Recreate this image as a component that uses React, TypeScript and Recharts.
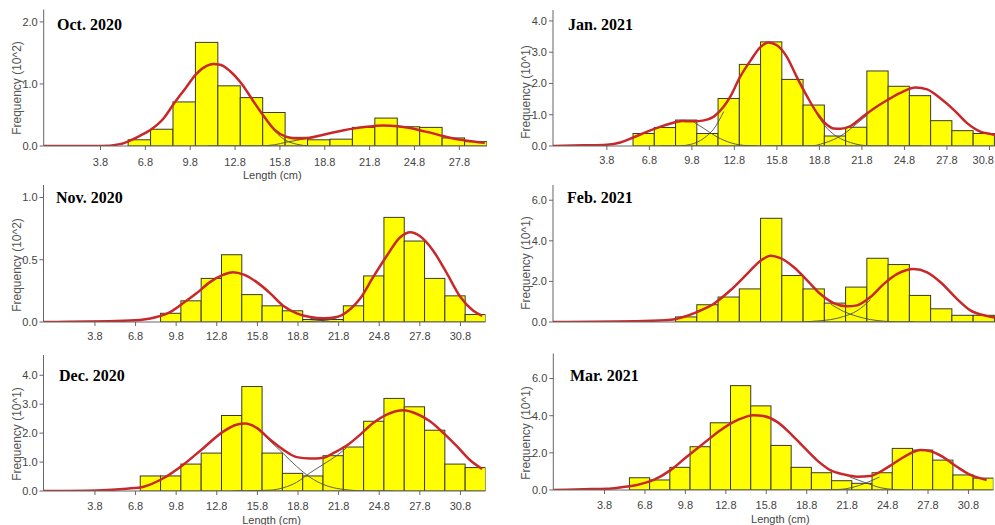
import React from 'react'
import { ComposedChart, Bar, Line, XAxis, YAxis } from 'recharts'

type Pt = [number, number]

// length classes (cm): bin midpoints, class width and axis ticks
const binCenters = [1.9, 3.4, 4.9, 6.4, 7.9, 9.4, 10.9, 12.4, 13.9, 15.4, 16.9, 18.4, 19.9, 21.4, 22.9, 24.4, 25.9, 27.4, 28.9, 30.4, 31.9]
const binWidth = 1.5
const lengthTicks = [3.8, 6.8, 9.8, 12.8, 15.8, 18.8, 21.8, 24.8, 27.8, 30.8]

// Oct. 2020  (x 10^2)
const octFreq = [null, null, null, 0.1, 0.27, 0.71, 1.67, 0.97, 0.78, 0.54, 0.14, 0.1, 0.11, 0.3, 0.45, 0.31, 0.3, 0.13, 0.07, null, null]
const octFit: Pt[] = [[0, 0], [3.8, 0], [5.1, 0.03], [5.8, 0.09], [6.4, 0.16], [7.2, 0.27], [8.0, 0.44], [8.7, 0.68], [9.45, 0.92], [10.2, 1.16], [10.9, 1.29], [11.35, 1.32], [11.8, 1.31], [12.45, 1.21], [13.25, 1.0], [14.0, 0.73], [14.75, 0.47], [15.45, 0.26], [16.2, 0.15], [16.9, 0.12], [17.7, 0.13], [18.5, 0.17], [19.2, 0.21], [20.0, 0.25], [20.7, 0.28], [21.6, 0.31], [22.7, 0.33], [23.7, 0.32], [24.5, 0.29], [25.2, 0.25], [26.1, 0.2], [26.7, 0.16], [27.4, 0.12], [28.2, 0.09], [29.5, 0.05]]
const octParts: Pt[][] = [
  [[14.75, 0.47], [15.45, 0.24], [16.2, 0.09], [16.9, 0.03], [17.7, 0]],
  [[11.0, 0], [14.3, 0], [15.45, 0.02], [16.2, 0.06], [16.9, 0.09], [17.7, 0.13]],
]
const octYTicks = [0, 1, 2]

// Nov. 2020  (x 10^2)
const novFreq = [null, null, null, null, null, 0.07, 0.17, 0.35, 0.54, 0.22, 0.13, 0.09, 0.02, 0.02, 0.13, 0.37, 0.84, 0.65, 0.35, 0.21, 0.06]
const novFit: Pt[] = [[0, 0], [5.9, 0.01], [7.4, 0.02], [8.35, 0.04], [9.35, 0.08], [10.3, 0.15], [11.3, 0.23], [12.3, 0.32], [13.3, 0.38], [14.0, 0.4], [14.8, 0.38], [15.75, 0.32], [16.75, 0.23], [17.7, 0.13], [18.7, 0.07], [19.7, 0.04], [20.7, 0.03], [21.65, 0.04], [22.4, 0.08], [23.4, 0.19], [24.35, 0.36], [25.35, 0.53], [26.35, 0.68], [27.1, 0.72], [27.8, 0.69], [28.8, 0.57], [29.8, 0.39], [30.8, 0.2], [31.75, 0.09], [32.4, 0.05]]
const novParts: Pt[][] = [
  [[19.7, 0.03], [20.7, 0.01], [21.7, 0]],
  [[19.2, 0], [20.2, 0.01], [21.2, 0.02], [22.0, 0.05]],
]
const novYTicks = [0, 0.5, 1]

// Dec. 2020  (x 10^1)
const decFreq = [null, null, null, null, 0.52, 0.52, 0.93, 1.31, 2.61, 3.61, 1.31, 0.61, 0.52, 1.22, 1.52, 2.41, 3.2, 2.91, 2.1, 0.93, 0.81]
const decFit: Pt[] = [[0, 0], [3.9, 0.02], [6.15, 0.08], [7.4, 0.15], [8.85, 0.44], [10.3, 0.9], [11.8, 1.48], [13.3, 2.06], [14.25, 2.29], [14.9, 2.33], [15.75, 2.18], [16.75, 1.77], [17.7, 1.43], [18.7, 1.17], [19.7, 1.12], [20.7, 1.15], [21.4, 1.31], [22.4, 1.57], [23.4, 1.95], [24.35, 2.35], [25.35, 2.64], [26.6, 2.79], [27.55, 2.67], [28.55, 2.41], [29.55, 2.0], [30.55, 1.54], [31.5, 1.07], [32.4, 0.76]]
const decParts: Pt[][] = [
  [[15.75, 2.18], [16.75, 1.72], [17.7, 1.3], [18.7, 0.85], [19.7, 0.47], [20.7, 0.22], [21.65, 0.09], [22.65, 0.03], [23.6, 0], [25.8, 0]],
  [[14.0, 0], [16.75, 0.03], [17.7, 0.11], [18.7, 0.3], [19.7, 0.63], [20.7, 0.93], [21.65, 1.22], [22.4, 1.5]],
]
const decYTicks = [0, 1, 2, 3, 4]

// Jan. 2021  (x 10^1)
const janFreq = [null, null, null, 0.4, 0.59, 0.83, 0.4, 1.52, 2.61, 3.33, 2.13, 1.31, 0.32, 0.6, 2.4, 1.91, 1.61, 0.81, 0.49, 0.4, null]
const janFit: Pt[] = [[0, 0], [2.15, 0.02], [3.8, 0.04], [4.75, 0.11], [5.7, 0.28], [6.65, 0.46], [7.6, 0.62], [8.3, 0.72], [9.1, 0.8], [9.95, 0.79], [10.65, 0.82], [11.35, 0.94], [12.05, 1.26], [12.5, 1.57], [13.2, 2.21], [13.95, 2.74], [14.65, 3.17], [15.2, 3.31], [15.8, 3.22], [16.5, 2.85], [17.2, 2.21], [17.95, 1.57], [18.65, 1.04], [19.35, 0.67], [19.8, 0.56], [20.3, 0.55], [21.0, 0.64], [21.7, 0.88], [22.65, 1.2], [23.6, 1.47], [24.5, 1.7], [25.6, 1.87], [26.4, 1.81], [27.35, 1.52], [28.3, 1.15], [29.2, 0.74], [30.15, 0.46], [30.9, 0.38], [31.9, 0.3]]
const janParts: Pt[][] = [
  [[9.95, 0.76], [10.65, 0.56], [11.35, 0.35], [12.3, 0.14], [13.45, 0.02], [14.5, 0]],
  [[7.6, 0], [8.75, 0], [9.7, 0.05], [10.65, 0.25], [11.35, 0.55], [12.05, 1.1]],
  [[18.65, 0.99], [19.35, 0.56], [20.05, 0.3], [21.0, 0.11], [21.9, 0.02], [22.8, 0], [26.0, 0]],
  [[15.0, 0], [18.2, 0], [19.1, 0.09], [20.05, 0.26], [20.75, 0.46], [21.45, 0.72], [22.2, 1.0]],
]
const janYTicks = [0, 1, 2, 3, 4]

// Feb. 2021  (x 10^1)
const febFreq = [null, null, null, null, null, 0.25, 0.85, 1.23, 1.63, 5.11, 2.29, 1.63, 0.93, 1.72, 3.14, 2.83, 1.31, 0.65, 0.33, 0.33, null]
const febFit: Pt[] = [[0, 0], [6.4, 0.05], [8.3, 0.11], [9.2, 0.25], [10.15, 0.49], [11.35, 0.9], [12.5, 1.55], [13.7, 2.37], [14.65, 3.02], [15.35, 3.27], [16.05, 3.15], [17.0, 2.7], [17.95, 2.04], [18.85, 1.39], [19.8, 0.93], [20.75, 0.77], [21.45, 0.82], [22.4, 1.23], [23.35, 1.88], [24.3, 2.37], [25.45, 2.61], [26.4, 2.45], [27.35, 1.96], [28.5, 1.14], [29.45, 0.57], [30.65, 0.29], [31.9, 0.15]]
const febParts: Pt[][] = [
  [[19.6, 0.88], [20.5, 0.52], [21.45, 0.28], [22.4, 0.12], [23.35, 0.04], [24.3, 0], [25.5, 0]],
  [[17.7, 0], [18.65, 0.05], [19.6, 0.12], [20.5, 0.27], [21.45, 0.55], [22.4, 1.1]],
]
const febYTicks = [0, 2, 4, 6]

// Mar. 2021  (x 10^1)
const marFreq = [null, null, null, 0.66, 0.54, 1.22, 2.33, 3.62, 5.62, 4.53, 2.4, 1.22, 0.93, 0.5, 0.36, 0.93, 2.24, 2.15, 1.61, 0.81, 0.64]
const marFit: Pt[] = [[0, 0], [2.25, 0.04], [4.0, 0.07], [4.95, 0.14], [6.2, 0.27], [7.45, 0.54], [8.7, 1.07], [9.9, 1.79], [11.15, 2.51], [12.4, 3.22], [13.65, 3.76], [14.85, 4.03], [15.6, 3.98], [16.6, 3.67], [17.6, 3.04], [18.55, 2.33], [19.55, 1.61], [20.55, 1.07], [21.55, 0.84], [22.55, 0.72], [23.5, 0.75], [24.25, 0.98], [25.25, 1.43], [26.25, 1.88], [27.25, 2.15], [27.95, 2.1], [28.95, 1.76], [29.95, 1.25], [30.95, 0.81], [32.15, 0.54]]
const marParts: Pt[][] = [
  [[22.0, 0.7], [23.2, 0.38], [24.3, 0.12], [25.2, 0.03], [26.0, 0]],
  [[19.0, 0], [21.2, 0.03], [22.2, 0.14], [23.2, 0.38], [24.2, 0.7]],
]
const marYTicks = [0, 2, 4, 6]

const pageW = 995
const axisFont = 'Liberation Sans, Arial, sans-serif'
const barFill = '#ffff00'
const barStroke = '#3a3a26'
const fitColor = '#c8282a'

const buildRows = (freq: (number | null)[], fit: Pt[], parts: Pt[][]) => {
  const rows: any[] = []
  binCenters.forEach((x, i) => {
    if (freq[i] != null) rows.push({ x, freq: freq[i] })
  })
  fit.forEach(([x, y]) => rows.push({ x, fit: y }))
  parts.forEach((part, j) => part.forEach(([x, y]) => rows.push({ x, ['p' + j]: y })))
  return rows.sort((a, b) => a.x - b.x)
}

const panels = [
  {
    title: 'Oct. 2020', yLabel: 'Frequency (10^2)', freq: octFreq, fit: octFit, parts: octParts, yTicks: octYTicks,
    yMax: 2.2, xMax: 29.65, left: 0, top: 0, plotLeft: 43.7, plotTop: 9.5, plotW: 443.3, plotH: 136.5,
    tickLabels: true, xLabel: true, tickMargin: 8, titleAt: [57, 30], yLabelAt: [17, 88],
  },
  {
    title: 'Nov. 2020', yLabel: 'Frequency (10^2)', freq: novFreq, fit: novFit, parts: novParts, yTicks: novYTicks,
    yMax: 1.1, xMax: 32.65, left: 0, top: 182, plotLeft: 43.5, plotTop: 185, plotW: 442, plotH: 137,
    tickLabels: true, xLabel: false, tickMargin: 6, titleAt: [56, 203], yLabelAt: [17, 265],
  },
  {
    title: 'Dec. 2020', yLabel: 'Frequency (10^1)', freq: decFreq, fit: decFit, parts: decParts, yTicks: decYTicks,
    yMax: 4.7, xMax: 32.65, left: 0, top: 344, plotLeft: 43.5, plotTop: 355, plotW: 442, plotH: 136,
    tickLabels: true, xLabel: true, tickMargin: 7, titleAt: [59, 381.5], yLabelAt: [17, 434],
  },
  {
    title: 'Jan. 2021', yLabel: 'Frequency (10^1)', freq: janFreq, fit: janFit, parts: janParts, yTicks: janYTicks,
    yMax: 4.35, xMax: 32.65, left: 510, top: 0, plotLeft: 553, plotTop: 10, plotW: 462.7, plotH: 136,
    tickLabels: true, xLabel: false, tickMargin: 6, titleAt: [568, 30.5], yLabelAt: [526, 92],
  },
  {
    title: 'Feb. 2021', yLabel: 'Frequency (10^1)', freq: febFreq, fit: febFit, parts: febParts, yTicks: febYTicks,
    yMax: 6.75, xMax: 32.65, left: 510, top: 168, plotLeft: 553, plotTop: 185, plotW: 462.7, plotH: 137,
    tickLabels: false, xLabel: false, tickMargin: 7, titleAt: [567, 203], yLabelAt: [526, 263],
  },
  {
    title: 'Mar. 2021', yLabel: 'Frequency (10^1)', freq: marFreq, fit: marFit, parts: marParts, yTicks: marYTicks,
    yMax: 7.35, xMax: 32.65, left: 510, top: 344, plotLeft: 553.3, plotTop: 353.5, plotW: 440.1, plotH: 136.5,
    tickLabels: true, xLabel: true, tickMargin: 7, titleAt: [570, 381.5], yLabelAt: [526, 433],
  },
]

const Panel = ({ p }: { p: any }) => {
  const yAxisW = p.plotLeft - p.left
  const marginTop = p.plotTop - p.top
  const width = yAxisW + p.plotW + 2
  const height = marginTop + p.plotH + 36
  const binPx = (binWidth / p.xMax) * p.plotW
  const rows = buildRows(p.freq, p.fit, p.parts)
  // only the ticks that fall inside this panel's length range
  const xTicks = lengthTicks.filter((t) => t <= p.xMax)
  const visibleW = pageW - p.left

  const drawBin = (props: any) => {
    const { x, y, width: w, height: h } = props
    if (h == null || !(h > 0) || isNaN(x)) return <g />
    const cx = x + w / 2
    return <rect x={cx - binPx / 2} y={y} width={binPx} height={h} fill={barFill} stroke={barStroke} strokeWidth={1} />
  }

  // tick label; a label that would run past the page edge is pulled back inside
  const drawTick = (props: any) => {
    const { x, y, payload } = props
    const overflow = x + 11 > visibleW
    return (
      <text x={overflow ? visibleW - 1 : x} y={y} dy="0.71em" textAnchor={overflow ? 'end' : 'middle'} fontSize={11} fill="#444" fontFamily={axisFont}>
        {Number(payload.value).toFixed(1)}
      </text>
    )
  }

  return (
    <div style={{ position: 'absolute', left: p.left, top: p.top }}>
      <ComposedChart width={width} height={height} data={rows} margin={{ top: marginTop, right: 2, bottom: 0, left: 0 }}>
        <XAxis
          type="number"
          dataKey="x"
          domain={[0, p.xMax]}
          ticks={xTicks}
          interval={0}
          allowDataOverflow
          height={36}
          tickSize={4}
          tickMargin={p.tickMargin}
          stroke="#666"
          tick={p.tickLabels ? drawTick : false}
          label={p.xLabel ? { value: 'Length (cm)', position: 'insideBottom', offset: 3, dx: 7, fontSize: 11, fill: '#444', fontFamily: axisFont } : undefined}
        />
        <YAxis
          type="number"
          domain={[0, p.yMax]}
          ticks={p.yTicks}
          interval={0}
          allowDataOverflow
          width={yAxisW}
          tickSize={4}
          tickMargin={2}
          stroke="#666"
          tick={{ fontSize: 11, fill: '#444', fontFamily: axisFont }}
          tickFormatter={(v: number) => v.toFixed(1)}
        />
        <Bar dataKey="freq" barSize={2} shape={drawBin} isAnimationActive={false} />
        {p.parts.map((_: Pt[], j: number) => (
          <Line key={j} dataKey={'p' + j} type="monotone" stroke="#4d4d4d" strokeWidth={0.9} dot={false} connectNulls isAnimationActive={false} />
        ))}
        <Line dataKey="fit" type="monotone" stroke={fitColor} strokeWidth={2.5} dot={false} connectNulls isAnimationActive={false} />
      </ComposedChart>
    </div>
  )
}

const App = () => {
  return (
    <div style={{ position: 'fixed', left: 0, top: 0, width: pageW, height: 525, overflow: 'hidden', background: '#fff' }}>
      {panels.map((p) => (
        <Panel key={p.title} p={p} />
      ))}
      {panels.map((p) => (
        <div
          key={p.title + '-t'}
          style={{
            position: 'absolute', left: p.titleAt[0], top: p.titleAt[1] - 13.4, fontFamily: 'Liberation Serif, Times New Roman, serif',
            fontWeight: 'bold', fontSize: 16, lineHeight: '16px', color: '#000', whiteSpace: 'nowrap',
          }}
        >
          {p.title}
        </div>
      ))}
      {panels.map((p) => (
        <div
          key={p.title + '-y'}
          style={{
            position: 'absolute', left: p.yLabelAt[0], top: p.yLabelAt[1], transform: 'translate(-50%, -50%) rotate(-90deg)',
            fontFamily: axisFont, fontSize: 12, color: '#555', whiteSpace: 'nowrap', lineHeight: '14px',
          }}
        >
          {p.yLabel}
        </div>
      ))}
    </div>
  )
}

export default App
